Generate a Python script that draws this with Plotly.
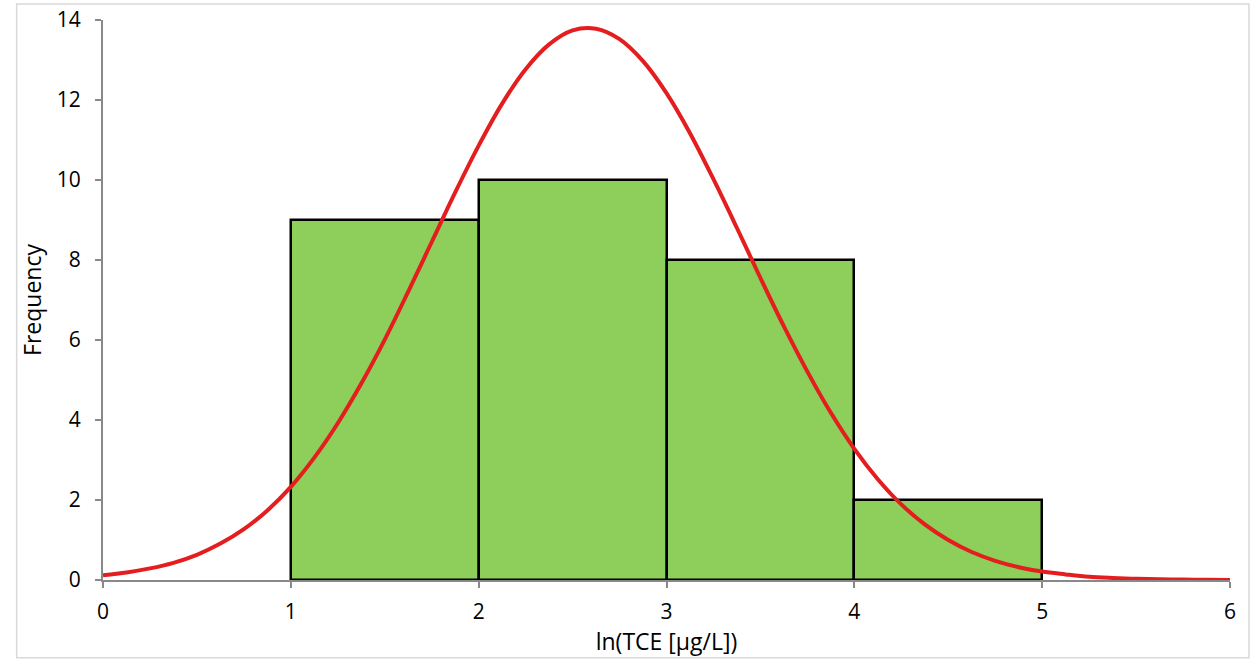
import plotly.graph_objects as go

# Histogram data
bin_left = [1, 2, 3, 4]
bin_right = [2, 3, 4, 5]
frequency = [9, 10, 8, 2]

# Fitted normal curve
curve_x = [0, 0.125, 0.25, 0.375, 0.5, 0.625, 0.75, 0.875, 1.0, 1.125, 1.25, 1.375,
           1.5, 1.625, 1.75, 1.875, 2.0, 2.125, 2.25, 2.375, 2.5, 2.625, 2.75, 2.875,
           3.0, 3.125, 3.25, 3.375, 3.5, 3.625, 3.75, 3.875, 4.0, 4.125, 4.25, 4.375,
           4.5, 4.625, 4.75, 4.875, 5.0, 5.125, 5.25, 5.375, 5.5, 5.625, 5.75, 5.875, 6.0]
curve_y = [0.12, 0.19, 0.29, 0.43, 0.63, 0.91, 1.27, 1.74, 2.33, 3.06, 3.92, 4.91,
           6.01, 7.21, 8.45, 9.69, 10.86, 11.91, 12.77, 13.39, 13.74, 13.78, 13.52, 12.97,
           12.17, 11.17, 10.02, 8.80, 7.55, 6.34, 5.21, 4.18, 3.28, 2.52, 1.89, 1.39,
           1.0, 0.70, 0.48, 0.32, 0.21, 0.14, 0.08, 0.05, 0.03, 0.02, 0.01, 0.005, 0.0]

x_ticks = [0, 1, 2, 3, 4, 5, 6]
y_ticks = [0, 2, 4, 6, 8, 10, 12, 14]

centers = [(a + b) / 2 for a, b in zip(bin_left, bin_right)]
widths = [b - a for a, b in zip(bin_left, bin_right)]

FONT = "Open Sans, Liberation Sans, sans-serif"
AXIS_GRAY = "#898989"

fig = go.Figure()
fig.add_trace(go.Bar(
    x=centers, y=frequency, width=widths,
    marker=dict(color="#8ECE5B", line=dict(color="black", width=2.5)),
    showlegend=False, hoverinfo="x+y",
))
fig.add_trace(go.Scatter(
    x=curve_x, y=curve_y, mode="lines",
    line=dict(color="#E41E1E", width=4, shape="spline", smoothing=1.0),
    showlegend=False, cliponaxis=False,
))

fig.update_layout(
    width=1253, height=661,
    margin=dict(l=103, r=23, t=20, b=81),
    paper_bgcolor="white", plot_bgcolor="white",
    font=dict(family=FONT, size=21, color="black"),
    bargap=0,
    shapes=[dict(type="rect", xref="paper", yref="paper",
                 x0=-0.0766, x1=1.0168, y0=-0.139, y1=1.0285,
                 line=dict(color="#D9D9D9", width=1.5), layer="below")],
)
fig.update_xaxes(
    range=[0, 6], tickvals=x_ticks, ticktext=[str(v) for v in x_ticks],
    showgrid=False, zeroline=False, automargin=False,
    showline=True, linecolor=AXIS_GRAY, linewidth=2,
    ticks="outside", ticklen=6, tickwidth=2, tickcolor=AXIS_GRAY,
    layer="below traces", ticklabelstandoff=6,
    title=dict(text="ln(TCE [μg/L])", font=dict(size=23), standoff=0),
    tickfont=dict(size=21),
)
fig.update_yaxes(
    range=[0, 14], tickvals=y_ticks, ticktext=[str(v) for v in y_ticks],
    showgrid=False, zeroline=False, automargin=False,
    showline=True, linecolor=AXIS_GRAY, linewidth=2,
    ticks="outside", ticklen=6, tickwidth=2, tickcolor=AXIS_GRAY,
    layer="below traces", ticklabelstandoff=10,
    title=dict(text="Frequency", font=dict(size=23), standoff=9),
    tickfont=dict(size=21),
)

fig.write_html("out.html")
